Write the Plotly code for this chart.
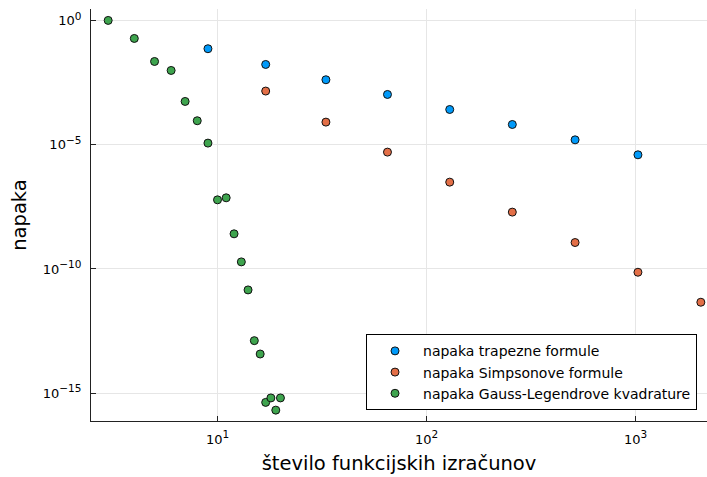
import plotly.graph_objects as go

# Number of function evaluations for each rule
n_trap = [9, 17, 33, 65, 129, 257, 513, 1025]
n_simp = [17, 33, 65, 129, 257, 513, 1025, 2049]
n_gauss = [3, 4, 5, 6, 7, 8, 9, 10, 11, 12, 13, 14, 15, 16, 17, 18, 19, 20]

# Absolute errors
err_trap = [7.26e-2, 1.69e-2, 4.1e-3, 1.05e-3, 2.61e-4, 6.5e-5, 1.57e-5, 3.92e-6]
err_simp = [1.44e-3, 8.1e-5, 5.03e-6, 3.12e-7, 1.94e-8, 1.16e-9, 7.4e-11, 4.6e-12]
err_gauss = [1.0, 1.88e-1, 2.23e-2, 9.7e-3, 5.5e-4, 9.2e-5, 1.16e-5, 6.05e-8, 7.3e-8,
             2.6e-9, 1.93e-10, 1.44e-11, 1.31e-13, 3.8e-14, 4.3e-16, 6.5e-16, 2.1e-16, 6.5e-16]

names = ["napaka trapezne formule", "napaka Simpsonove formule",
         "napaka Gauss-Legendrove kvadrature"]
colors = ["#009AFA", "#E36F47", "#3EA44E"]

x_ticks = [10, 100, 1000]
x_exps = ["1", "2", "3"]
y_ticks = [1, 1e-5, 1e-10, 1e-15]
y_exps = ["0", "−5", "−10", "−15"]


def power_label(exp):
    return f"10<sup><span style='font-size:10.5px'>{exp}</span></sup>"


fig = go.Figure()
for xs, ys, name, col in zip([n_trap, n_simp, n_gauss], [err_trap, err_simp, err_gauss],
                             names, colors):
    fig.add_trace(go.Scatter(
        x=xs, y=ys, mode="markers", name=name,
        marker=dict(size=8, color=col, line=dict(color="#111111", width=1)),
    ))

font = "DejaVu Sans, sans-serif"
fig.update_layout(
    width=707, height=477,
    margin=dict(l=91, r=0, t=9, b=56),
    plot_bgcolor="white", paper_bgcolor="white",
    font=dict(family=font, color="black"),
    legend=dict(
        x=0.9838, y=0.026, xanchor="right", yanchor="bottom",
        bordercolor="black", borderwidth=1, bgcolor="white",
        font=dict(size=14, family=font),
        tracegroupgap=0, itemwidth=46,
    ),
    xaxis=dict(
        type="log", range=[0.395, 3.341],
        tickvals=x_ticks, ticktext=[power_label(e) for e in x_exps],
        tickfont=dict(size=13),
        ticks="inside", ticklen=5, tickcolor="#222222",
        ticklabelstandoff=6,
        showgrid=True, gridcolor="#e6e6e6", gridwidth=1,
        showline=True, linecolor="#222222", linewidth=1,
        zeroline=False, mirror=False,
        title=dict(text="število funkcijskih izračunov", font=dict(size=19.5), standoff=10),
    ),
    yaxis=dict(
        type="log", range=[-16.115, 0.459],
        tickvals=y_ticks, ticktext=[power_label(e) for e in y_exps],
        tickfont=dict(size=13),
        ticks="inside", ticklen=5, tickcolor="#222222",
        ticklabelstandoff=6,
        showgrid=True, gridcolor="#e6e6e6", gridwidth=1,
        showline=True, linecolor="#222222", linewidth=1,
        zeroline=False, mirror=False,
        title=dict(text="napaka", font=dict(size=19.5), standoff=10),
    ),
)

fig.write_html("out.html")
